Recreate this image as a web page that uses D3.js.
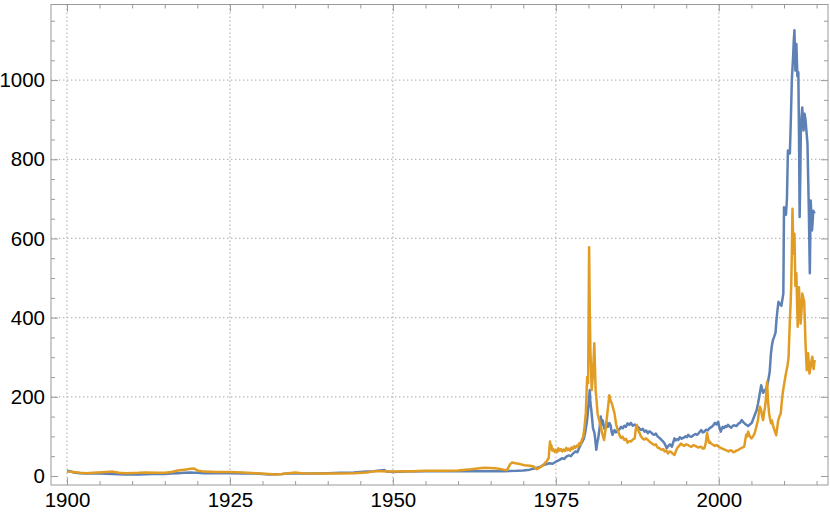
<!DOCTYPE html>
<meta charset="utf-8">
<style>
body { margin: 0; background: #fff; }
.frame { fill: none; stroke: #9a9a9a; stroke-width: 1px; }
.grid line { stroke: #b8b8b8; stroke-width: 1.2px; stroke-dasharray: 1.4,2.6; }
.axis path { display: none; }
.axis line { stroke: #9a9a9a; }
.axis text { font-family: "Liberation Sans", Arial, sans-serif; font-size: 20.5px; fill: #000; }
.line { fill: none; stroke-width: 2.5px; stroke-linejoin: round; }
</style>
<body>
<script src="https://d3js.org/d3.v7.min.js"></script>
<script>

// tick labels
var xMajor = [1900, 1925, 1950, 1975, 2000];
var yMajor = [0, 200, 400, 600, 800, 1000];

// blue series [year, value]
var blueSeries = [
  [1900.0, 13], [1900.5, 12], [1901, 9], [1902, 7], [1903, 6], [1905, 6], [1907, 5],
  [1909, 4], [1911, 4], [1913, 5], [1915, 5], [1916, 6], [1917, 7], [1918, 8],
  [1919, 9], [1919.5, 8], [1920, 8], [1921, 7], [1923, 7], [1925, 7], [1927, 6],
  [1929, 6], [1931, 4], [1933, 5], [1934, 6], [1936, 6], [1938, 6], [1940, 7],
  [1942, 8], [1944, 9], [1946, 11], [1947, 12], [1948, 14], [1948.7, 15], [1949, 11],
  [1950, 10], [1952, 11], [1955, 12], [1958, 12], [1961, 12], [1964, 12], [1967, 12],
  [1969, 13], [1970, 14], [1971, 16], [1972, 20], [1972.6, 23], [1973, 27], [1974, 32],
  [1974.5, 31], [1975, 36], [1975.5, 40], [1976, 45], [1976.3, 43], [1976.6, 49],
  [1977, 52], [1977.3, 50], [1977.6, 56], [1978, 62], [1978.3, 60], [1978.6, 72],
  [1979, 85], [1979.3, 95], [1979.5, 110], [1979.75, 135], [1979.9, 158],
  [1980.05, 190], [1980.2, 217], [1980.3, 185], [1980.45, 165], [1980.7, 120],
  [1980.9, 110], [1981.0, 99], [1981.2, 66], [1981.35, 84], [1981.5, 95], [1981.7, 120],
  [1981.9, 150], [1982.05, 130], [1982.2, 140], [1982.4, 122], [1982.5, 118],
  [1982.7, 128], [1982.8, 135], [1983.0, 124], [1983.2, 134], [1983.4, 128],
  [1983.55, 112], [1983.7, 104], [1983.85, 112], [1984.0, 116], [1984.2, 110],
  [1984.5, 114], [1984.75, 118], [1985.0, 124], [1985.25, 120], [1985.5, 127],
  [1985.75, 124], [1986.0, 133], [1986.25, 129], [1986.5, 134], [1986.8, 127],
  [1987.1, 130], [1987.35, 126], [1987.6, 124], [1987.85, 119], [1988.1, 116],
  [1988.35, 119], [1988.6, 112], [1988.85, 115], [1989.1, 108], [1989.35, 113],
  [1989.6, 110], [1989.85, 106], [1990.1, 104], [1990.35, 107], [1990.6, 100],
  [1990.9, 96], [1991.2, 91], [1991.4, 88], [1991.6, 84], [1991.8, 78], [1992.0, 70],
  [1992.2, 75], [1992.5, 80], [1992.8, 74], [1993.0, 85], [1993.2, 95], [1993.4, 90],
  [1993.6, 93], [1993.8, 91], [1994.0, 98], [1994.3, 94], [1994.6, 97], [1994.9, 100],
  [1995.1, 98], [1995.3, 104], [1995.55, 100], [1995.8, 99], [1996.1, 103],
  [1996.4, 106], [1996.7, 104], [1997.0, 110], [1997.3, 116], [1997.55, 110],
  [1997.8, 112], [1998.05, 117], [1998.3, 115], [1998.6, 121], [1998.9, 124],
  [1999.15, 128], [1999.4, 134], [1999.65, 130], [1999.9, 137], [2000.1, 122],
  [2000.3, 112], [2000.45, 119], [2000.6, 124], [2000.8, 121], [2001.0, 126],
  [2001.2, 124], [2001.4, 129], [2001.65, 125], [2001.9, 122], [2002.15, 127],
  [2002.4, 128], [2002.7, 126], [2003.0, 132], [2003.25, 134], [2003.5, 141],
  [2003.75, 136], [2004.0, 132], [2004.25, 129], [2004.5, 126], [2004.75, 130],
  [2005.0, 133], [2005.15, 138], [2005.3, 145], [2005.55, 156], [2005.8, 166],
  [2006.0, 182], [2006.2, 200], [2006.35, 215], [2006.5, 229], [2006.8, 210],
  [2007.1, 217], [2007.3, 222], [2007.5, 234], [2007.8, 262], [2008.0, 310],
  [2008.15, 330], [2008.3, 343], [2008.5, 352], [2008.7, 362], [2008.85, 395],
  [2009.0, 419], [2009.15, 440], [2009.3, 436], [2009.6, 430], [2009.9, 461],
  [2010.0, 679], [2010.15, 672], [2010.3, 660], [2010.45, 700], [2010.6, 822],
  [2010.75, 818], [2010.9, 815], [2011.05, 900], [2011.2, 999], [2011.4, 1060],
  [2011.5, 1100], [2011.6, 1126], [2011.75, 1024], [2011.9, 1091], [2012.05, 1010],
  [2012.2, 1020], [2012.3, 860], [2012.4, 654], [2012.5, 760], [2012.6, 889],
  [2012.8, 931], [2013.0, 873], [2013.15, 915], [2013.3, 900], [2013.45, 870],
  [2013.6, 840], [2013.8, 680], [2013.96, 512], [2014.1, 696], [2014.3, 620],
  [2014.5, 670], [2014.7, 663]
];

// orange series [year, value]
var orangeSeries = [
  [1900, 11], [1901, 10], [1902, 8], [1903, 7], [1904, 8], [1906, 10], [1907, 11],
  [1908, 8], [1909, 7], [1911, 8], [1912, 9], [1914, 8], [1915, 8], [1916, 10],
  [1917, 14], [1918, 16], [1919, 18], [1919.5, 19], [1920, 14], [1921, 11], [1923, 10],
  [1925, 10], [1927, 9], [1929, 7], [1931, 5], [1932, 4], [1933, 5], [1935, 9],
  [1936, 7], [1938, 6], [1940, 6], [1942, 6], [1944, 7], [1946, 9], [1947, 12],
  [1948, 12], [1950, 11], [1953, 12], [1955, 13], [1958, 13], [1960, 14], [1962, 17],
  [1963, 19], [1964, 21], [1965, 20], [1966, 19], [1967, 16], [1967.5, 15], [1968, 30],
  [1968.3, 34], [1968.8, 32], [1969.5, 30], [1970.2, 27], [1971, 26], [1971.6, 24],
  [1972.1, 17], [1972.6, 22], [1973.1, 28], [1973.6, 38], [1973.9, 45], [1974.1, 87],
  [1974.2, 70], [1974.3, 78], [1974.45, 64], [1974.6, 68], [1974.8, 61], [1975.0, 66],
  [1975.2, 60], [1975.4, 70], [1975.6, 64], [1975.8, 68], [1976.0, 62], [1976.2, 67],
  [1976.4, 63], [1976.6, 71], [1976.8, 65], [1977.0, 69], [1977.2, 64], [1977.4, 72],
  [1977.6, 68], [1977.8, 75], [1978.0, 71], [1978.2, 77], [1978.4, 74], [1978.6, 83],
  [1978.8, 80], [1979.0, 92], [1979.2, 99], [1979.4, 124], [1979.6, 160],
  [1979.8, 250], [1979.95, 234], [1980.1, 578], [1980.2, 420], [1980.3, 318],
  [1980.5, 217], [1980.7, 260], [1980.9, 335], [1981.1, 217], [1981.25, 190],
  [1981.4, 158], [1981.65, 140], [1981.9, 124], [1982.15, 105], [1982.4, 91],
  [1982.65, 120], [1982.9, 158], [1983.05, 180], [1983.2, 204], [1983.4, 190],
  [1983.6, 183], [1983.8, 170], [1984.0, 158], [1984.25, 130], [1984.5, 116],
  [1984.75, 104], [1985.0, 96], [1985.25, 99], [1985.5, 91], [1985.75, 94],
  [1986.0, 84], [1986.25, 88], [1986.5, 87], [1986.8, 92], [1987.1, 95],
  [1987.25, 118], [1987.4, 129], [1987.6, 116], [1987.8, 110], [1988.0, 102],
  [1988.1, 99], [1988.35, 94], [1988.6, 92], [1988.85, 95], [1989.1, 91],
  [1989.35, 87], [1989.6, 84], [1989.85, 81], [1990.1, 78], [1990.35, 80],
  [1990.6, 72], [1990.9, 70], [1991.2, 66], [1991.45, 68], [1991.7, 62],
  [1991.95, 64], [1992.2, 57], [1992.45, 62], [1992.7, 60], [1992.95, 56],
  [1993.2, 53], [1993.4, 62], [1993.6, 70], [1993.9, 76], [1994.2, 82], [1994.45, 78],
  [1994.7, 76], [1995.0, 80], [1995.3, 78], [1995.55, 75], [1995.8, 74], [1996.1, 78],
  [1996.4, 76], [1996.8, 72], [1997.3, 74], [1997.55, 69], [1997.8, 70], [1998.0, 84],
  [1998.2, 108], [1998.35, 95], [1998.5, 84], [1998.65, 86], [1998.8, 82],
  [1999.1, 79], [1999.4, 76], [1999.7, 78], [2000.0, 74], [2000.2, 72], [2000.4, 70],
  [2000.7, 68], [2001.0, 66], [2001.25, 64], [2001.5, 62], [2001.75, 65], [2002.0, 64],
  [2002.2, 60], [2002.4, 61], [2002.7, 64], [2003.0, 66], [2003.2, 68], [2003.4, 70],
  [2003.65, 72], [2003.9, 74], [2004.05, 90], [2004.2, 104], [2004.35, 100],
  [2004.5, 112], [2004.65, 104], [2004.8, 99], [2005.0, 95], [2005.25, 100],
  [2005.5, 108], [2005.75, 124], [2006.0, 140], [2006.15, 160], [2006.3, 175],
  [2006.5, 166], [2006.65, 150], [2006.8, 141], [2006.95, 160], [2007.1, 175],
  [2007.25, 200], [2007.4, 238], [2007.55, 190], [2007.7, 160], [2007.85, 145],
  [2008.0, 133], [2008.15, 140], [2008.3, 128], [2008.5, 118], [2008.65, 110],
  [2008.8, 103], [2008.95, 120], [2009.1, 140], [2009.3, 150], [2009.5, 158],
  [2009.65, 185], [2009.8, 209], [2009.95, 225], [2010.1, 240], [2010.25, 255],
  [2010.4, 267], [2010.55, 280], [2010.7, 300], [2010.9, 393], [2011.0, 430],
  [2011.1, 477], [2011.2, 560], [2011.3, 675], [2011.45, 562], [2011.6, 612],
  [2011.75, 480], [2011.9, 512], [2012.0, 440], [2012.1, 377], [2012.2, 430],
  [2012.3, 477], [2012.4, 430], [2012.55, 385], [2012.7, 420], [2012.8, 461],
  [2012.95, 450], [2013.1, 440], [2013.2, 390], [2013.3, 335], [2013.4, 300],
  [2013.5, 267], [2013.6, 290], [2013.7, 310], [2013.8, 285], [2013.9, 259],
  [2014.0, 268], [2014.1, 276], [2014.2, 290], [2014.35, 301], [2014.45, 282],
  [2014.55, 270], [2014.7, 293]
];

var W = 830, H = 514;
var pLeft = 51, pRight = 828, pTop = 4.5, pBottom = 485;

var x = d3.scaleLinear().domain([1897.55, 2016.75]).range([pLeft, pRight]);
var y = d3.scaleLinear().domain([-22.8, 1191]).range([pBottom, pTop]);

var svg = d3.select("body").append("svg")
    .attr("width", W)
    .attr("height", H);

var xMinor = d3.range(1900, 2016, 5).filter(function(d) { return xMajor.indexOf(d) < 0; });
var yMinor = d3.range(0, 1191, 50).filter(function(d) { return yMajor.indexOf(d) < 0; });

// grid lines
var grid = svg.append("g").attr("class", "grid");
grid.selectAll(".gx").data(xMajor).enter().append("line")
    .attr("x1", function(d) { return x(d); }).attr("x2", function(d) { return x(d); })
    .attr("y1", pTop).attr("y2", pBottom);
grid.selectAll(".gy").data(yMajor.filter(function(d) { return d > 0; })).enter().append("line")
    .attr("x1", pLeft).attr("x2", pRight)
    .attr("y1", function(d) { return y(d); }).attr("y2", function(d) { return y(d); });

// series
var line = d3.line()
    .x(function(d) { return x(d[0]); })
    .y(function(d) { return y(d[1]); });

svg.append("path").datum(blueSeries)
    .attr("class", "line").attr("stroke", "#5e81b5").attr("d", line);
svg.append("path").datum(orangeSeries)
    .attr("class", "line").attr("stroke", "#e19c24").attr("d", line);

// axes: inward ticks on all sides, labels left/bottom
function addAxis(axisFn, scale, vals, size, labels, transform, pad) {
  var a = axisFn(scale).tickValues(vals).tickSizeInner(-size).tickSizeOuter(0).tickPadding(pad || 7);
  if (!labels) a.tickFormat("");
  else a.tickFormat(d3.format("d"));
  svg.append("g").attr("class", "axis").attr("transform", transform).call(a);
}
addAxis(d3.axisBottom, x, xMajor, 7, true, "translate(0," + pBottom + ")", 7);
addAxis(d3.axisBottom, x, xMinor, 4, false, "translate(0," + pBottom + ")");
addAxis(d3.axisTop, x, xMajor, 7, false, "translate(0," + pTop + ")");
addAxis(d3.axisTop, x, xMinor, 4, false, "translate(0," + pTop + ")");
addAxis(d3.axisLeft, y, yMajor, 7, true, "translate(" + pLeft + ",0)", 6);
addAxis(d3.axisLeft, y, yMinor, 4, false, "translate(" + pLeft + ",0)");
addAxis(d3.axisRight, y, yMajor, 7, false, "translate(" + pRight + ",0)");
addAxis(d3.axisRight, y, yMinor, 4, false, "translate(" + pRight + ",0)");

// frame
svg.append("rect").attr("class", "frame")
    .attr("x", pLeft).attr("y", pTop)
    .attr("width", pRight - pLeft).attr("height", pBottom - pTop);

</script>
</body>
